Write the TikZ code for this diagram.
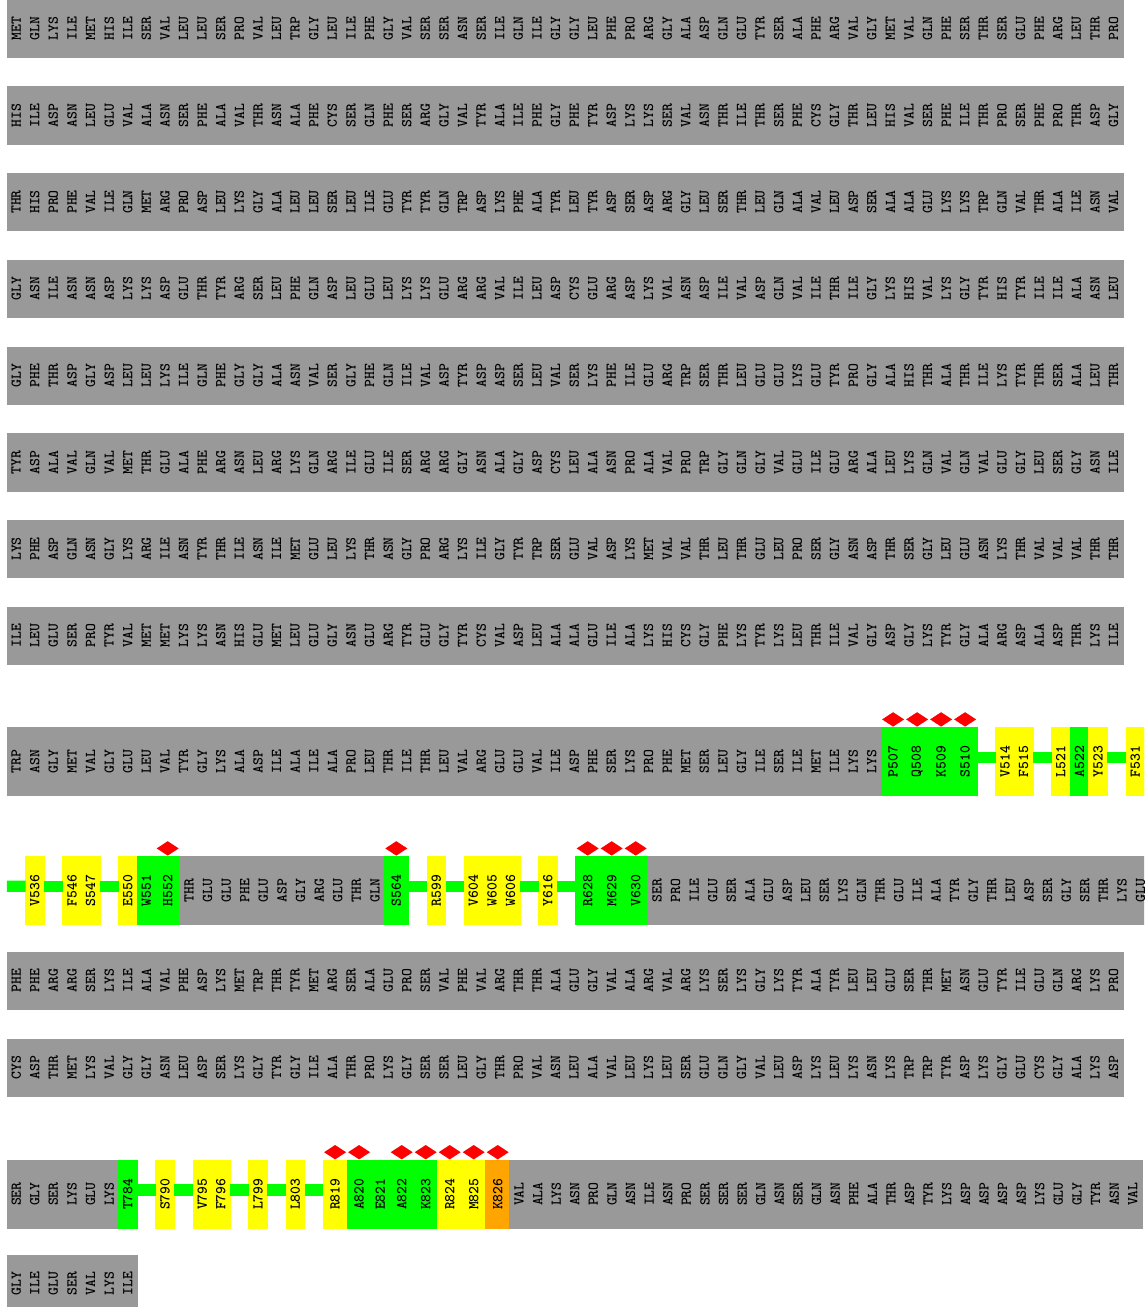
\documentclass[tikz,border=0pt]{standalone}
\usepackage{fontspec}
\definecolor{resgrey}{HTML}{999999}
\definecolor{resgreen}{HTML}{00FF00}
\definecolor{resyellow}{HTML}{FFFF00}
\definecolor{resorange}{HTML}{FFA500}
\definecolor{diamondred}{HTML}{FF0000}
\definecolor{labtext}{HTML}{000000}
\newcommand{\restt}{\ttfamily\bfseries\fontsize{15}{15}\selectfont}
\tikzset{
  resnode/.style={rotate=90, inner sep=0pt, outer sep=0pt, font=\restt, line width=0.5pt},
  greyres/.style={resnode, fill=resgrey, draw=resgrey, text=labtext, minimum height=18.6pt},
  hilite/.style={resnode, fill=#1, draw=#1, text=black, minimum width=67.3pt},
  greenlink/.style={draw=resgreen, line width=11.3pt},
}
% #1 name prefix, #2 x left, #3 y centre, #4 bar height, #5 list
\newcommand{\plainrow}[5]{%
  \foreach \r [count=\i] in {#5} {%
    \node[greyres, minimum width=#4pt] (#1-\i) at ({#2+(\i-0.5)*18.6}, #3) {\r};
  }%
}
% #1 name, #2 x left, #3 width, #4 y centre, #5 colour, #6 label
\newcommand{\hres}[6]{%
  \node[hilite=#5, minimum height=#3pt] (#1) at ({#2+#3/2}, #4) {#6};
}
\newcommand{\diam}[1]{%
  \fill[diamondred] ([shift={(-11pt,8.3pt)}]#1.east) -- ([shift={(0pt,15.5pt)}]#1.east)
    -- ([shift={(11pt,8.3pt)}]#1.east) -- ([shift={(0pt,1.1pt)}]#1.east) -- cycle;
}
\newcommand{\glink}[2]{%
  \draw[greenlink] ([yshift=4.15pt]#1.south) -- ([yshift=4.15pt]#2.north);
}
\begin{document}
\begin{tikzpicture}[x=1pt,y=-1pt]
\clip (0,0) rectangle (1144,1307);
\fill[white] (0,0) rectangle (1144,1307);

\plainrow{r1}{6.9}{28.65}{57.3}{MET,GLN,LYS,ILE,MET,HIS,ILE,SER,VAL,LEU,LEU,SER,PRO,VAL,LEU,TRP,GLY,LEU,ILE,PHE,GLY,VAL,SER,SER,ASN,SER,ILE,GLN,ILE,GLY,GLY,LEU,PHE,PRO,ARG,GLY,ALA,ASP,GLN,GLU,TYR,SER,ALA,PHE,ARG,VAL,GLY,MET,VAL,GLN,PHE,SER,THR,SER,GLU,PHE,ARG,LEU,THR,PRO}
\plainrow{r2}{6.9}{115.35}{57.3}{HIS,ILE,ASP,ASN,LEU,GLU,VAL,ALA,ASN,SER,PHE,ALA,VAL,THR,ASN,ALA,PHE,CYS,SER,GLN,PHE,SER,ARG,GLY,VAL,TYR,ALA,ILE,PHE,GLY,PHE,TYR,ASP,LYS,LYS,SER,VAL,ASN,THR,ILE,THR,SER,PHE,CYS,GLY,THR,LEU,HIS,VAL,SER,PHE,ILE,THR,PRO,SER,PHE,PRO,THR,ASP,GLY}
\plainrow{r3}{6.9}{202.05}{57.3}{THR,HIS,PRO,PHE,VAL,ILE,GLN,MET,ARG,PRO,ASP,LEU,LYS,GLY,ALA,LEU,LEU,SER,LEU,ILE,GLU,TYR,TYR,GLN,TRP,ASP,LYS,PHE,ALA,TYR,LEU,TYR,ASP,SER,ASP,ARG,GLY,LEU,SER,THR,LEU,GLN,ALA,VAL,LEU,ASP,SER,ALA,ALA,GLU,LYS,LYS,TRP,GLN,VAL,THR,ALA,ILE,ASN,VAL}
\plainrow{r4}{6.9}{288.75}{57.3}{GLY,ASN,ILE,ASN,ASN,ASP,LYS,LYS,ASP,GLU,THR,TYR,ARG,SER,LEU,PHE,GLN,ASP,LEU,GLU,LEU,LYS,LYS,GLU,ARG,ARG,VAL,ILE,LEU,ASP,CYS,GLU,ARG,ASP,LYS,VAL,ASN,ASP,ILE,VAL,ASP,GLN,VAL,ILE,THR,ILE,GLY,LYS,HIS,VAL,LYS,GLY,TYR,HIS,TYR,ILE,ILE,ALA,ASN,LEU}
\plainrow{r5}{6.9}{375.45}{57.3}{GLY,PHE,THR,ASP,GLY,ASP,LEU,LEU,LYS,ILE,GLN,PHE,GLY,GLY,ALA,ASN,VAL,SER,GLY,PHE,GLN,ILE,VAL,ASP,TYR,ASP,ASP,SER,LEU,VAL,SER,LYS,PHE,ILE,GLU,ARG,TRP,SER,THR,LEU,GLU,GLU,LYS,GLU,TYR,PRO,GLY,ALA,HIS,THR,ALA,THR,ILE,LYS,TYR,THR,SER,ALA,LEU,THR}
\plainrow{r6}{6.9}{462.25}{57.3}{TYR,ASP,ALA,VAL,GLN,VAL,MET,THR,GLU,ALA,PHE,ARG,ASN,LEU,ARG,LYS,GLN,ARG,ILE,GLU,ILE,SER,ARG,ARG,GLY,ASN,ALA,GLY,ASP,CYS,LEU,ALA,ASN,PRO,ALA,VAL,PRO,TRP,GLY,GLN,GLY,VAL,GLU,ILE,GLU,ARG,ALA,LEU,LYS,GLN,VAL,GLN,VAL,GLU,GLY,LEU,SER,GLY,ASN,ILE}
\plainrow{r7}{6.9}{548.95}{57.3}{LYS,PHE,ASP,GLN,ASN,GLY,LYS,ARG,ILE,ASN,TYR,THR,ILE,ASN,ILE,MET,GLU,LEU,LYS,THR,ASN,GLY,PRO,ARG,LYS,ILE,GLY,TYR,TRP,SER,GLU,VAL,ASP,LYS,MET,VAL,VAL,THR,LEU,THR,GLU,LEU,PRO,SER,GLY,ASN,ASP,THR,SER,GLY,LEU,GLU,ASN,LYS,THR,VAL,VAL,VAL,THR,THR}
\plainrow{r8}{6.9}{635.65}{57.3}{ILE,LEU,GLU,SER,PRO,TYR,VAL,MET,MET,LYS,LYS,ASN,HIS,GLU,MET,LEU,GLU,GLY,ASN,GLU,ARG,TYR,GLU,GLY,TYR,CYS,VAL,ASP,LEU,ALA,ALA,GLU,ILE,ALA,LYS,HIS,CYS,GLY,PHE,LYS,TYR,LYS,LEU,THR,ILE,VAL,GLY,ASP,GLY,LYS,TYR,GLY,ALA,ARG,ASP,ALA,ASP,THR,LYS,ILE}

% ---- row 9
\plainrow{r9}{6.9}{761.35}{67.3}{TRP,ASN,GLY,MET,VAL,GLY,GLU,LEU,VAL,TYR,GLY,LYS,ALA,ASP,ILE,ALA,ILE,ALA,PRO,LEU,THR,ILE,THR,LEU,VAL,ARG,GLU,GLU,VAL,ILE,ASP,PHE,SER,LYS,PRO,PHE,MET,SER,LEU,GLY,ILE,SER,ILE,MET,ILE,LYS,LYS}
\hres{P507}{881.1}{24}{761.35}{resgreen}{P507}
\hres{Q508}{905.1}{24}{761.35}{resgreen}{Q508}
\hres{K509}{929.1}{24}{761.35}{resgreen}{K509}
\hres{S510}{953.1}{24}{761.35}{resgreen}{S510}
\hres{V514}{995.7}{18.6}{761.35}{resyellow}{V514}
\hres{F515}{1014.3}{18.6}{761.35}{resyellow}{F515}
\hres{L521}{1051.5}{18.6}{761.35}{resyellow}{L521}
\hres{A522}{1070.1}{18.6}{761.35}{resgreen}{A522}
\hres{Y523}{1088.7}{18.6}{761.35}{resyellow}{Y523}
\hres{F531}{1125.9}{18.6}{761.35}{resyellow}{F531}
\diam{P507}\diam{Q508}\diam{K509}\diam{S510}
\glink{S510}{V514}
\glink{F515}{L521}
\glink{Y523}{F531}

% ---- row 10
\coordinate (start10) at (6.9,886.2);
\hres{V536}{25.5}{18.6}{890.35}{resyellow}{V536}
\hres{F546}{62.7}{18.6}{890.35}{resyellow}{F546}
\hres{S547}{81.3}{18.6}{890.35}{resyellow}{S547}
\hres{E550}{118.5}{18.6}{890.35}{resyellow}{E550}
\hres{W551}{137.1}{18.6}{890.35}{resgreen}{W551}
\hres{H552}{155.7}{24}{890.35}{resgreen}{H552}
\plainrow{r10a}{179.7}{890.35}{67.3}{THR,GLU,GLU,PHE,GLU,ASP,GLY,ARG,GLU,THR,GLN}
\hres{S564}{384.3}{24}{890.35}{resgreen}{S564}
\hres{R599}{426.9}{18.6}{890.35}{resyellow}{R599}
\hres{V604}{464.1}{18.6}{890.35}{resyellow}{V604}
\hres{W605}{482.7}{18.6}{890.35}{resyellow}{W605}
\hres{W606}{501.3}{18.6}{890.35}{resyellow}{W606}
\hres{Y616}{538.5}{18.6}{890.35}{resyellow}{Y616}
\hres{R628}{575.7}{24}{890.35}{resgreen}{R628}
\hres{M629}{599.7}{24}{890.35}{resgreen}{M629}
\hres{V630}{623.7}{24}{890.35}{resgreen}{V630}
\plainrow{r10b}{647.7}{890.35}{67.3}{SER,PRO,ILE,GLU,SER,ALA,GLU,ASP,LEU,SER,LYS,GLN,THR,GLU,ILE,ALA,TYR,GLY,THR,LEU,ASP,SER,GLY,SER,THR,LYS,GLU}
\diam{H552}\diam{S564}\diam{R628}\diam{M629}\diam{V630}
\draw[greenlink] (start10) -- ([yshift=4.15pt]V536.north);
\glink{V536}{F546}
\glink{S547}{E550}
\glink{S564}{R599}
\glink{R599}{V604}
\glink{W606}{Y616}
\glink{Y616}{R628}

% ---- rows 11, 12
\plainrow{r11}{6.9}{980.65}{57.3}{PHE,PHE,ARG,ARG,SER,LYS,ILE,ALA,VAL,PHE,ASP,LYS,MET,TRP,THR,TYR,MET,ARG,SER,ALA,GLU,PRO,SER,VAL,PHE,VAL,ARG,THR,THR,ALA,GLU,GLY,VAL,ALA,ARG,VAL,ARG,LYS,SER,LYS,GLY,LYS,TYR,ALA,TYR,LEU,LEU,GLU,SER,THR,MET,ASN,GLU,TYR,ILE,GLU,GLN,ARG,LYS,PRO}
\plainrow{r12}{6.9}{1067.65}{57.3}{CYS,ASP,THR,MET,LYS,VAL,GLY,GLY,ASN,LEU,ASP,SER,LYS,GLY,TYR,GLY,ILE,ALA,THR,PRO,LYS,GLY,SER,SER,LEU,GLY,THR,PRO,VAL,ASN,LEU,ALA,VAL,LEU,LYS,LEU,SER,GLU,GLN,GLY,VAL,LEU,ASP,LYS,LEU,LYS,ASN,LYS,TRP,TRP,TYR,ASP,LYS,GLY,GLU,CYS,GLY,ALA,LYS,ASP}

% ---- row 13
\plainrow{r13a}{6.9}{1194.15}{67.3}{SER,GLY,SER,LYS,GLU,LYS}
\hres{T784}{118.5}{18.6}{1194.15}{resgreen}{T784}
\hres{S790}{155.7}{18.6}{1194.15}{resyellow}{S790}
\hres{V795}{192.9}{18.6}{1194.15}{resyellow}{V795}
\hres{F796}{211.5}{18.6}{1194.15}{resyellow}{F796}
\hres{L799}{248.7}{18.6}{1194.15}{resyellow}{L799}
\hres{L803}{285.9}{18.6}{1194.15}{resyellow}{L803}
\hres{R819}{323.1}{24}{1194.15}{resyellow}{R819}
\hres{A820}{347.1}{24}{1194.15}{resgreen}{A820}
\hres{E821}{371.1}{18.6}{1194.15}{resgreen}{E821}
\hres{A822}{389.7}{24}{1194.15}{resgreen}{A822}
\hres{K823}{413.7}{24}{1194.15}{resgreen}{K823}
\hres{R824}{437.7}{24}{1194.15}{resyellow}{R824}
\hres{M825}{461.7}{24}{1194.15}{resyellow}{M825}
\hres{K826}{485.7}{24}{1194.15}{resorange}{K826}
\plainrow{r13b}{509.7}{1194.15}{67.3}{VAL,ALA,LYS,ASN,PRO,GLN,ASN,ILE,ASN,PRO,SER,SER,SER,GLN,ASN,SER,GLN,ASN,PHE,ALA,THR,ASP,TYR,LYS,ASP,ASP,ASP,ASP,LYS,GLU,GLY,TYR,ASN,VAL}
\diam{R819}\diam{A820}\diam{A822}\diam{K823}\diam{R824}\diam{M825}\diam{K826}
\glink{T784}{S790}
\glink{S790}{V795}
\glink{F796}{L799}
\glink{L799}{L803}
\glink{L803}{R819}

% ---- row 14
\plainrow{r14}{6.9}{1283.65}{57.3}{GLY,ILE,GLU,SER,VAL,LYS,ILE}
\end{tikzpicture}
\end{document}
